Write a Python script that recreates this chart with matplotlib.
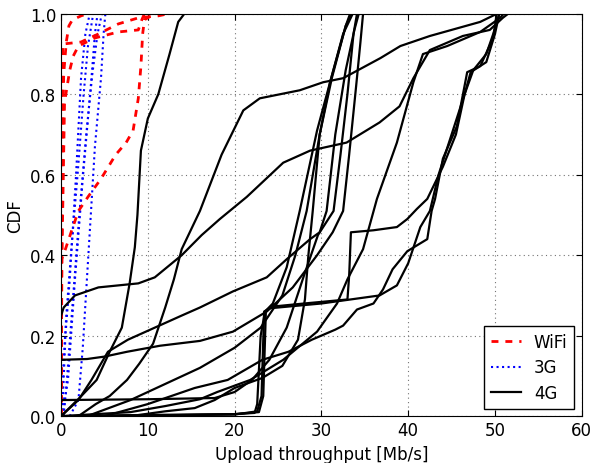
import matplotlib
matplotlib.use("Agg")
import matplotlib.pyplot as plt
from matplotlib.lines import Line2D

# WiFi curves (x = upload throughput in Mb/s, y = CDF)
wifi1_x = [0.0, 0.05, 0.15, 0.3, 0.6, 0.9, 1.3, 2.3, 3.0]
wifi1_y = [0.0, 0.3, 0.6, 0.85, 0.93, 0.97, 0.985, 0.995, 1.0]
wifi2_x = [0.0, 0.02, 0.05, 0.5, 1.2, 2.0, 3.1, 4.6, 6.3, 7.5, 8.3, 8.9, 9.2, 9.4, 9.6, 10.5, 11.0]
wifi2_y = [0.0, 0.2, 0.39, 0.415, 0.46, 0.51, 0.545, 0.59, 0.65, 0.68, 0.71, 0.79, 0.87, 0.95, 0.985, 0.997, 1.0]
wifi3_x = [0.0, 0.05, 0.1, 0.2, 2.3, 4.3, 6.6, 8.9, 11.2, 12.3]
wifi3_y = [0.0, 0.5, 0.8, 0.925, 0.93, 0.95, 0.975, 0.99, 0.995, 1.0]
wifi4_x = [0.0, 0.1, 0.4, 1.0, 1.4, 2.0, 3.9, 6.6, 8.9, 9.3, 9.6]
wifi4_y = [0.0, 0.4, 0.78, 0.86, 0.895, 0.92, 0.94, 0.955, 0.96, 0.985, 1.0]

# 3G curves
g3_1_x = [0.1, 0.3, 0.5, 1.0, 1.7, 2.3, 2.8, 3.3]
g3_1_y = [0.0, 0.09, 0.2, 0.34, 0.59, 0.84, 0.95, 1.0]
g3_2_x = [0.2, 0.5, 0.8, 1.6, 2.5, 3.5, 3.9, 4.2]
g3_2_y = [0.0, 0.05, 0.09, 0.34, 0.59, 0.84, 0.95, 1.0]
g3_3_x = [1.0, 2.0, 2.5, 3.2, 3.9, 4.6, 4.9, 5.1]
g3_3_y = [0.0, 0.04, 0.17, 0.42, 0.67, 0.84, 0.95, 1.0]
g3_4_x = [0.1, 0.2, 0.6, 1.2, 1.9, 2.6, 3.1, 3.7]
g3_4_y = [0.0, 0.1, 0.25, 0.42, 0.6, 0.8, 0.92, 1.0]
g3_5_x = [0.3, 0.7, 1.4, 2.1, 2.9, 3.6, 4.2, 4.7]
g3_5_y = [0.0, 0.1, 0.3, 0.5, 0.7, 0.85, 0.95, 1.0]

# 4G curves
g4_1_x = [0.0, 2.2, 4.1, 5.6, 7.0, 7.9, 8.5, 8.8, 9.2, 10.0, 11.2, 12.5, 13.5, 14.2]
g4_1_y = [0.0, 0.047, 0.09, 0.16, 0.22, 0.33, 0.42, 0.5, 0.66, 0.74, 0.80, 0.9, 0.98, 1.0]
g4_2_x = [0.0, 0.3, 1.6, 4.3, 8.9, 10.8, 13.9, 16.2, 18.3, 21.4, 25.6, 28.7, 32.9, 36.7,
          39.0, 40.6, 42.5, 46.3, 49.4, 50.9, 51.5]
g4_2_y = [0.25, 0.27, 0.30, 0.32, 0.33, 0.345, 0.40, 0.45, 0.49, 0.545, 0.63, 0.66, 0.68, 0.73,
          0.77, 0.84, 0.91, 0.945, 0.96, 0.99, 1.0]
g4_3_x = [2.0, 4.0, 5.6, 7.6, 9.0, 10.6, 12.0, 13.0, 13.9, 16.0, 18.5, 21.0, 22.9, 27.5,
          30.2, 32.5, 36.8, 39.1, 42.5, 48.3, 50.2]
g4_3_y = [0.0, 0.03, 0.05, 0.09, 0.13, 0.18, 0.27, 0.34, 0.415, 0.51, 0.65, 0.76, 0.79, 0.81,
          0.83, 0.84, 0.89, 0.92, 0.945, 0.98, 1.0]
g4_4_x = [0.0, 3.0, 5.0, 7.6, 11.4, 16.0, 19.8, 23.7, 26.7, 29.5, 31.3, 32.5, 33.2, 34.0, 34.5, 34.8]
g4_4_y = [0.14, 0.142, 0.148, 0.16, 0.175, 0.187, 0.21, 0.26, 0.32, 0.40, 0.457, 0.51, 0.65, 0.82, 0.93, 1.0]
g4_5_x = [0.0, 2.0, 3.5, 5.4, 7.7, 10.8, 13.9, 16.0, 19.8, 23.7, 26.0, 28.7, 29.8, 30.6,
          31.6, 32.8, 33.8, 34.3]
g4_5_y = [0.0, 0.04, 0.09, 0.16, 0.19, 0.22, 0.25, 0.27, 0.31, 0.345, 0.39, 0.44, 0.457, 0.51,
          0.7, 0.86, 0.96, 1.0]
g4_6_x = [8.0, 12.0, 15.4, 17.7, 20.0, 23.2, 25.5, 27.3, 28.1, 28.5, 29.0, 29.8, 31.0, 32.5, 33.6]
g4_6_y = [0.0, 0.012, 0.02, 0.04, 0.07, 0.095, 0.125, 0.19, 0.29, 0.4, 0.51, 0.7, 0.83, 0.95, 1.0]
g4_7_x = [0.0, 10.0, 17.7, 20.0, 22.0, 24.0, 26.0, 28.0, 29.6, 31.4, 32.2, 33.0, 33.7, 34.1]
g4_7_y = [0.04, 0.042, 0.045, 0.06, 0.09, 0.14, 0.22, 0.35, 0.45, 0.51, 0.65, 0.8, 0.95, 1.0]
g4_8_x = [0.0, 10.0, 20.0, 22.8, 23.3, 23.6, 24.2, 28.0, 33.0, 33.2, 33.4, 36.0, 38.7, 39.9,
          41.0, 42.2, 44.0, 45.5, 46.5, 47.5, 49.0, 49.8, 50.5]
g4_8_y = [0.0, 0.003, 0.005, 0.01, 0.05, 0.26, 0.272, 0.28, 0.29, 0.35, 0.457, 0.462, 0.47, 0.49,
          0.515, 0.54, 0.62, 0.7, 0.8, 0.86, 0.9, 0.95, 1.0]
g4_9_x = [0.0, 10.0, 20.0, 22.6, 23.1, 23.4, 24.0, 30.0, 36.7, 38.7, 40.0, 41.4, 42.5, 43.5,
          45.0, 46.5, 47.2, 49.0, 50.0, 50.5]
g4_9_y = [0.0, 0.002, 0.004, 0.012, 0.05, 0.26, 0.268, 0.28, 0.3, 0.325, 0.38, 0.47, 0.51, 0.6,
          0.7, 0.8, 0.855, 0.88, 0.95, 1.0]
g4_10_x = [5.0, 15.0, 20.0, 22.3, 22.6, 23.0, 23.5, 24.4, 26.0, 27.5, 29.5, 31.0, 32.8, 33.3]
g4_10_y = [0.0, 0.003, 0.005, 0.008, 0.03, 0.2, 0.26, 0.28, 0.37, 0.51, 0.71, 0.83, 0.97, 1.0]
g4_11_x = [5.0, 10.0, 15.4, 19.2, 23.2, 26.2, 28.9, 31.6, 32.5, 34.1, 36.0, 37.1, 38.2, 39.9,
           42.2, 42.7, 43.1, 44.0, 45.6, 46.8, 48.3, 49.8, 50.2]
g4_11_y = [0.0, 0.03, 0.07, 0.09, 0.14, 0.16, 0.19, 0.215, 0.225, 0.265, 0.28, 0.315, 0.365, 0.41,
           0.44, 0.51, 0.54, 0.64, 0.72, 0.855, 0.87, 0.94, 1.0]
g4_12_x = [0.0, 8.0, 12.0, 16.0, 18.0, 21.8, 25.6, 29.5, 31.8, 33.0, 34.8, 36.4, 38.7, 40.6,
           41.7, 44.5, 48.3, 50.6, 51.0]
g4_12_y = [0.0, 0.01, 0.025, 0.042, 0.06, 0.09, 0.14, 0.21, 0.28, 0.34, 0.415, 0.54, 0.68, 0.83,
           0.9, 0.92, 0.955, 0.99, 1.0]
g4_13_x = [3.0, 8.0, 12.0, 16.0, 20.0, 23.0, 25.5, 27.0, 28.3, 29.8, 31.2, 32.8, 33.5]
g4_13_y = [0.0, 0.04, 0.08, 0.12, 0.17, 0.22, 0.3, 0.4, 0.51, 0.7, 0.84, 0.97, 1.0]

wifi_curves = [(wifi1_x, wifi1_y), (wifi2_x, wifi2_y), (wifi3_x, wifi3_y), (wifi4_x, wifi4_y)]
g3_curves = [(g3_1_x, g3_1_y), (g3_2_x, g3_2_y), (g3_3_x, g3_3_y), (g3_4_x, g3_4_y), (g3_5_x, g3_5_y)]
g4_curves = [(g4_1_x, g4_1_y), (g4_2_x, g4_2_y), (g4_3_x, g4_3_y), (g4_4_x, g4_4_y),
             (g4_5_x, g4_5_y), (g4_6_x, g4_6_y), (g4_7_x, g4_7_y), (g4_8_x, g4_8_y),
             (g4_9_x, g4_9_y), (g4_10_x, g4_10_y), (g4_11_x, g4_11_y), (g4_12_x, g4_12_y),
             (g4_13_x, g4_13_y)]

wifi_style = dict(color="red", linestyle=(0, (2.5, 2.5)), linewidth=2)
g3_style = dict(color="blue", linestyle=":", linewidth=1.5)
g4_style = dict(color="black", linestyle="-", linewidth=1.6)

fig = plt.figure(figsize=(5.93, 4.64), dpi=100)
ax = fig.add_axes([0.103, 0.101, 0.878, 0.867])

for x, y in g3_curves:
    ax.plot(x, y, **g3_style)
for x, y in wifi_curves:
    ax.plot(x, y, **wifi_style)
for x, y in g4_curves:
    ax.plot(x, y, **g4_style)

ax.set_xlim(0, 60)
ax.set_ylim(0, 1.0)
ax.set_xticks([0, 10, 20, 30, 40, 50, 60])
ax.set_yticks([0.0, 0.2, 0.4, 0.6, 0.8, 1.0])
ax.set_yticklabels(["0.0", "0.2", "0.4", "0.6", "0.8", "1.0"])
ax.grid(True, color="0.45", linestyle=(0, (1, 3)), linewidth=0.8)
ax.tick_params(axis="both", which="both", direction="in", top=True, right=True,
               labelsize=12, length=4)
ax.set_xlabel("Upload throughput [Mb/s]", fontsize=12)
ax.set_ylabel("CDF", fontsize=12)

handles = [Line2D([], [], **wifi_style), Line2D([], [], **g3_style), Line2D([], [], **g4_style)]
leg = ax.legend(handles, ["WiFi", "3G", "4G"], loc="lower right", fontsize=12,
                fancybox=False, framealpha=1, edgecolor="black", handlelength=1.8,
                borderaxespad=0.45, labelspacing=0.45)
leg.get_frame().set_linewidth(1.0)

fig.savefig("out.png", dpi=100)
